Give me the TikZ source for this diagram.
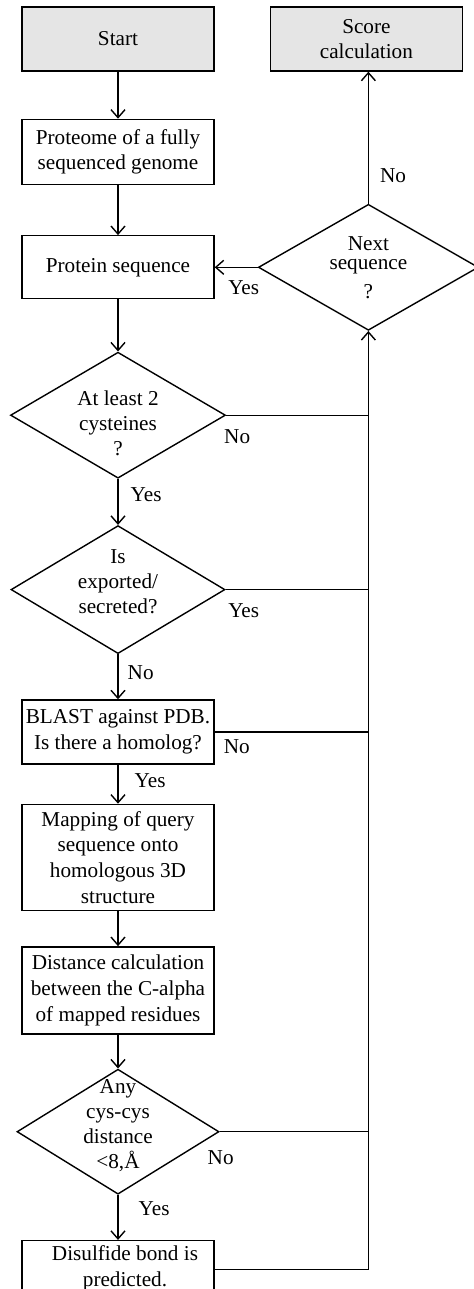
\documentclass[tikz,border=0pt]{standalone}
\usepackage{fontspec}
\setmainfont{Liberation Serif}
\usetikzlibrary{shapes.geometric, arrows.meta, positioning}
\tikzset{
  block/.style={rectangle, draw, line width=0.7pt, minimum width=96pt,
                inner sep=2pt, align=center, font=\fontsize{10.6}{12.8}\selectfont},
  terminal/.style={block, fill=black!10, minimum height=32pt},
  decision/.style={diamond, draw, line width=0.7pt, inner sep=0pt},
  dtext/.style={align=center, inner sep=0pt, font=\fontsize{10.6}{12.5}\selectfont},
  arrow/.style={-{Straight Barb[length=4pt, width=7pt]}, line width=0.7pt},
  line/.style={line width=0.7pt},
  lbl/.style={inner sep=0pt, font=\fontsize{10.6}{12.8}\selectfont},
}

\begin{document}
\begin{tikzpicture}[node distance=24pt]
  \useasboundingbox (-59pt,19.5pt) rectangle (177.5pt,-625pt);
  % main column
  \node[terminal] (start) {Start};
  \node[terminal, right=27.5pt of start] (score) {Score\\calculation};
  \node[block, below=23.5pt of start, minimum height=32.5pt] (proteome) {Proteome of a fully\\sequenced genome};
  \node[block, below=25pt of proteome, minimum height=31.5pt] (protein) {Protein sequence};
  \node[decision, right=21.5pt of protein, minimum width=110pt, minimum height=63pt,
        label={[dtext]center:Next\\[-3pt]sequence\\[2pt]?}] (next) {};
  \node[decision, below=26pt of protein, minimum width=107.5pt, minimum height=63pt,
        label={[dtext, yshift=-4pt]center:At least 2\\cysteines\\?}] (cys) {};
  \node[decision, below=23pt of cys, minimum width=107pt, minimum height=64pt,
        label={[dtext, yshift=4pt]center:Is\\exported/\\secreted?}] (export) {};
  \node[block, below=22.5pt of export, minimum height=32pt] (blast) {BLAST against PDB.\\Is there a homolog?};
  \node[block, below=19.5pt of blast, minimum height=53pt] (mapping) {Mapping of query\\sequence onto\\homologous 3D\\structure};
  \node[block, below=17.5pt of mapping, minimum height=43.5pt] (distance) {Distance calculation\\between the C-alpha\\of mapped residues};
  \node[decision, below=17pt of distance, minimum width=101pt, minimum height=62.5pt,
        label={[dtext, yshift=3pt]center:Any\\cys-cys\\distance\\<8,Å}] (cyscys) {};
  \node[block, below=22.5pt of cyscys, minimum height=32pt, text depth=6.5pt] (disulfide) {\hspace*{7pt}Disulfide bond is\\\hspace*{7pt}predicted.};

  % arrows down the column
  \draw[arrow] (start) -- (proteome);
  \draw[arrow] (proteome) -- (protein);
  \draw[arrow] (protein) -- (cys);
  \draw[arrow] (cys) -- (export) node[lbl, pos=0.35, right=6pt] (cysyes) {Yes};
  \draw[arrow] (export) -- (blast) node[lbl, pos=0.4, right=4.5pt] (exportno) {No};
  \draw[arrow] (blast) -- (mapping) node[lbl, pos=0.41, right=8pt] (blastyes) {Yes};
  \draw[arrow] (mapping) -- (distance);
  \draw[arrow] (distance) -- (cyscys);
  \draw[arrow] (cyscys) -- (disulfide) node[lbl, pos=0.31, right=10pt] (cyscysyes) {Yes};

  % loop back
  \draw[arrow] (next) -- (protein);
  \draw[arrow] (next.north) -- (next.north |- score.south) node[lbl, pos=0.21, right=5.5pt] (nextno) {No};
  \draw[arrow] ([yshift=1.5pt]disulfide.east) -| (next.south);
  \draw[line] (cys.east) -- (cys.east -| next.south);
  \draw[line] (export.east) -- (export.east -| next.south);
  \draw[line] (blast.east) -- (blast.east -| next.south);
  \draw[line] (cyscys.east) -- (cyscys.east -| next.south);

  \node[lbl] (nextyes) at ([shift={(14.5pt,-10pt)}]protein.east) {Yes};
  \node[lbl] (cysno) at ([shift={(5.5pt,-10.5pt)}]cys.east) {No};
  \node[lbl] (exportyes) at ([shift={(9pt,-10.5pt)}]export.east) {Yes};
  \node[lbl] (blastno) at ([shift={(11pt,-7.5pt)}]blast.east) {No};
  \node[lbl] (cyscysno) at ([shift={(0.5pt,-13pt)}]cyscys.east) {No};
\end{tikzpicture}
\end{document}
